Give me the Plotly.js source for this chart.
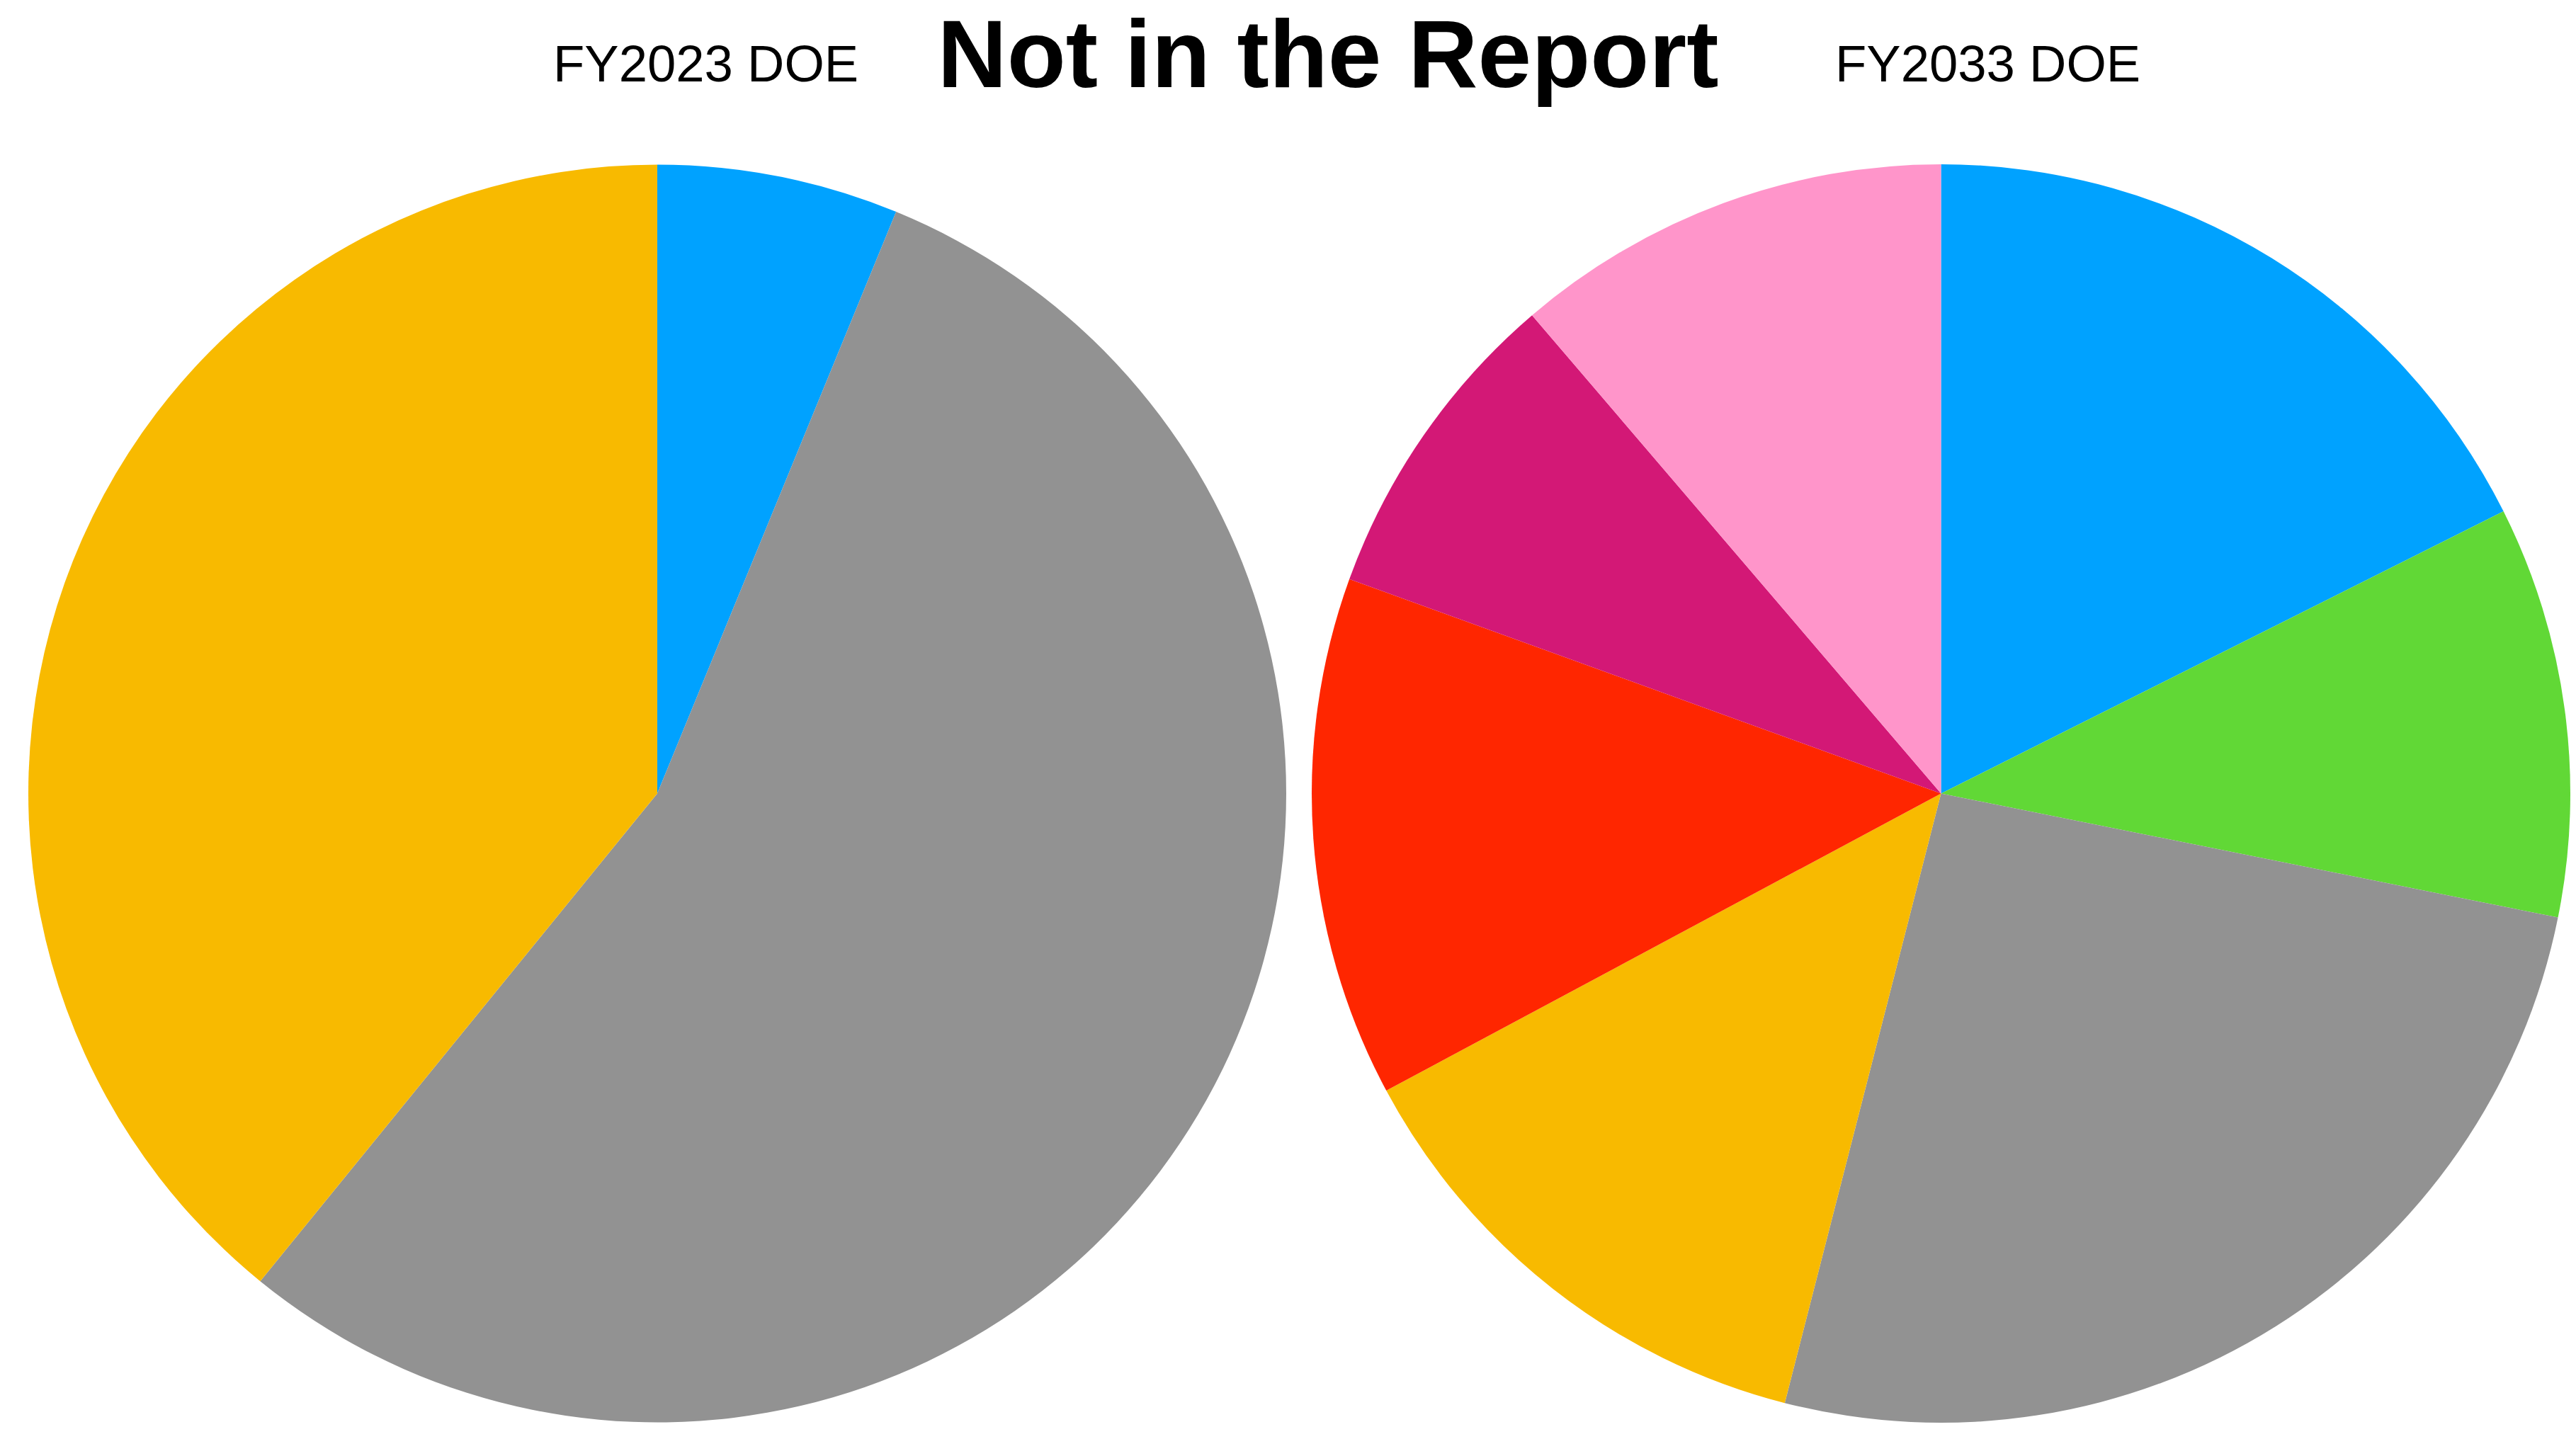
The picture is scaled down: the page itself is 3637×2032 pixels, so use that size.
<!DOCTYPE html>
<html>
<head>
<meta charset="utf-8">
<script src="https://cdn.plot.ly/plotly-3.0.1.min.js"></script>
<style>html,body{margin:0;padding:0;background:#fff;}#chart{width:3637px;height:2032px;}</style>
</head>
<body>
<div id="chart"></div>
<script>
// Data (percent shares, clockwise from 12 o'clock)
const labels2023 = ["Blue", "Gray", "Yellow"];
const values2023 = [6.20, 54.68, 39.13];
const colors2023 = ["#00A2FF", "#929292", "#F8BA00"];

const labels2033 = ["Blue", "Green", "Gray", "Yellow", "Red", "Magenta", "Pink"];
const values2033 = [17.60, 10.56, 25.84, 13.18, 13.36, 8.21, 11.26];
const colors2033 = ["#00A2FF", "#61D836", "#929292", "#F8BA00", "#FF2600", "#D31876", "#FF95CA"];

const subTitles = ["FY2023 DOE", "FY2033 DOE"];
const mainTitle = "Not in the Report";

const W = 3637, H = 2032;
const font = "Liberation Sans, Arial, Helvetica, sans-serif";

const common = {
  type: "pie",
  sort: false,
  direction: "clockwise",
  rotation: 0,
  textinfo: "none",
  hoverinfo: "label+percent",
  showlegend: false
};

const data = [
  Object.assign({}, common, {
    labels: labels2023, values: values2023,
    marker: {colors: colors2023, line: {width: 0}},
    domain: {x: [40 / W, 1816 / W], y: [23 / H, 1800 / H]}
  }),
  Object.assign({}, common, {
    labels: labels2033, values: values2033,
    marker: {colors: colors2033, line: {width: 0}},
    domain: {x: [1852 / W, 3629 / W], y: [23 / H, 1800 / H]}
  })
];

const layout = {
  width: W, height: H,
  margin: {l: 0, r: 0, t: 0, b: 0},
  paper_bgcolor: "#ffffff",
  plot_bgcolor: "#ffffff",
  showlegend: false,
  title: {
    text: "<b>" + mainTitle + "</b>",
    font: {family: font, size: 136, color: "#000000"},
    x: 1875 / W, xanchor: "center", xref: "paper",
    y: 1 - 75.5 / H, yanchor: "middle", yref: "paper"
  },
  annotations: [
    {text: subTitles[0], x: 996 / W, y: 1 - 89 / H, xref: "paper", yref: "paper",
     xanchor: "center", yanchor: "middle", showarrow: false,
     font: {family: font, size: 72.5, color: "#000000"}},
    {text: subTitles[1], x: 2806 / W, y: 1 - 89 / H, xref: "paper", yref: "paper",
     xanchor: "center", yanchor: "middle", showarrow: false,
     font: {family: font, size: 72.5, color: "#000000"}}
  ]
};

Plotly.newPlot("chart", data, layout, {displayModeBar: false, responsive: false});
</script>
</body>
</html>
